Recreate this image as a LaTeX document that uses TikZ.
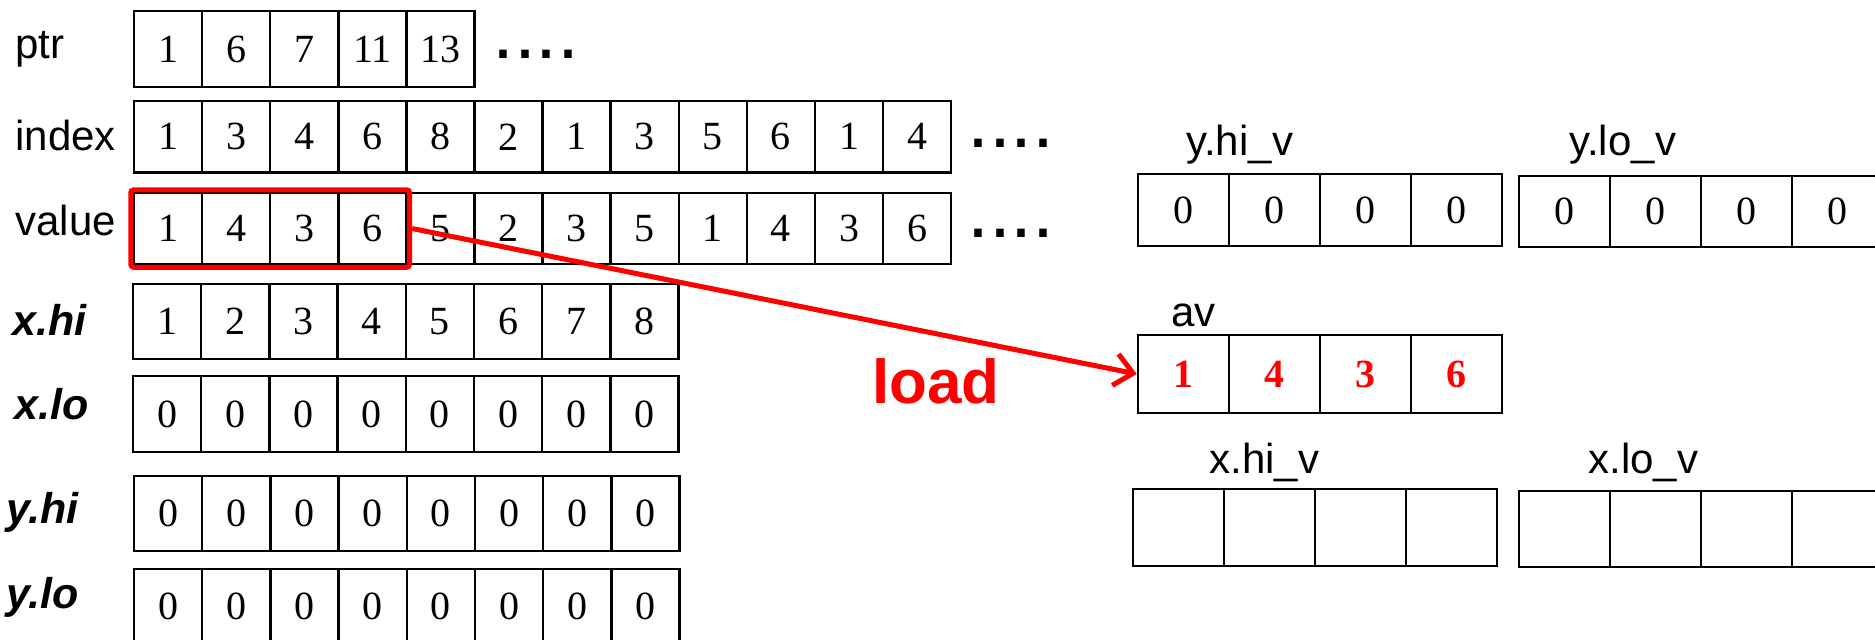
\documentclass[tikz,border=0pt]{standalone}
\usepackage{fontspec}
\setmainfont{Liberation Serif}
\setsansfont{Liberation Sans}
\usetikzlibrary{fit,arrows.meta}
\definecolor{myred}{RGB}{255,0,0}
\newcommand\cellrow[7][]{%
  \foreach \v [count=\i] in {#7} {
    \node[cell, #1, minimum width=#5*0.5pt, minimum height=#6*0.5pt] (#2-\i) at ({#3+(\i-0.5)*#5},{#4+#6/2}) {\v};
  }%
}
\newcommand\fourdots{·\kern-0.055em·\kern-0.055em·\kern-0.055em·}
\begin{document}
\begin{tikzpicture}[x=0.5pt,y=-0.5pt,
  cell/.style={draw, line width=1.25pt, inner sep=0pt, font=\fontsize{20}{24}\selectfont},
  avcell/.style={text=myred, font=\fontsize{20}{24}\selectfont\bfseries},
  lab/.style={anchor=base west, inner sep=0pt, font=\sffamily\fontsize{21}{24}\selectfont},
  blab/.style={anchor=base west, inner sep=0pt, font=\sffamily\bfseries\itshape\fontsize{21.5}{24}\selectfont},
  dots/.style={anchor=base west, inner sep=0pt, font=\sffamily\fontsize{39}{40}\selectfont},
  redbox/.style={draw=myred, line width=2.5pt, rounded corners=1.5pt, inner sep=1pt},
  redarrow/.style={draw=myred, line width=2.5pt, -{Straight Barb[length=9pt,width=16pt]}}
]
\clip (0,0) rectangle (1875,639);
% left arrays
\cellrow{ptr}{134}{11}{68.1}{76}{1,6,7,11,13}
\cellrow{index}{134}{101}{68.1}{71.5}{1,3,4,6,8,2,1,3,5,6,1,4}
\cellrow{value}{134}{193}{68.1}{71}{1,4,3,6,5,2,3,5,1,4,3,6}
\cellrow{xhi}{133}{284}{68.2}{75}{1,2,3,4,5,6,7,8}
\cellrow{xlo}{133}{376}{68.2}{76}{0,0,0,0,0,0,0,0}
\cellrow{yhi}{134}{476}{68.2}{75}{0,0,0,0,0,0,0,0}
\cellrow{ylo}{134}{569}{68.2}{75}{0,0,0,0,0,0,0,0}
% right arrays
\cellrow{yhiv}{1138}{174}{91}{72}{0,0,0,0}
\cellrow{ylov}{1519}{176}{91}{71}{0,0,0,0}
\cellrow[avcell]{av}{1138}{335}{91}{78}{1,4,3,6}
\cellrow{xhiv}{1133}{489}{91}{77}{{},{},{},{}}
\cellrow{xlov}{1519}{491}{91}{76}{{},{},{},{}}
% labels
\node[lab] (lptr) at (15,58) {ptr};
\node[lab] (lindex) at (15,150) {index};
\node[lab] (lvalue) at (15,235) {value};
\node[blab] (lxhi) at (12,335) {x.hi};
\node[blab] (lxlo) at (14,419) {x.lo};
\node[blab] (lyhi) at (6,523) {y.hi};
\node[blab] (lylo) at (6,608) {y.lo};
\node[lab] (lyhiv) at (1186,155) {y.hi\_v};
\node[lab] (lylov) at (1569,155) {y.lo\_v};
\node[lab] (lav) at (1171,326) {av};
\node[lab] (lxhiv) at (1209,473) {x.hi\_v};
\node[lab] (lxlov) at (1588,473) {x.lo\_v};
% dots
\node[dots] (d1) at (490,75) {\fourdots};
\node[dots] (d2) at (965,164) {\fourdots};
\node[dots] (d3) at (965,254) {\fourdots};
% selection and arrow
\node[redbox, fit=(value-1)(value-4)] (sel) {};
\draw[redarrow] (sel.east) -- (av-1.west);
\node[anchor=base west, inner sep=0pt, text=myred, font=\sffamily\bfseries\fontsize{31}{36}\selectfont] (load) at (872,403) {load};
\end{tikzpicture}
\end{document}
